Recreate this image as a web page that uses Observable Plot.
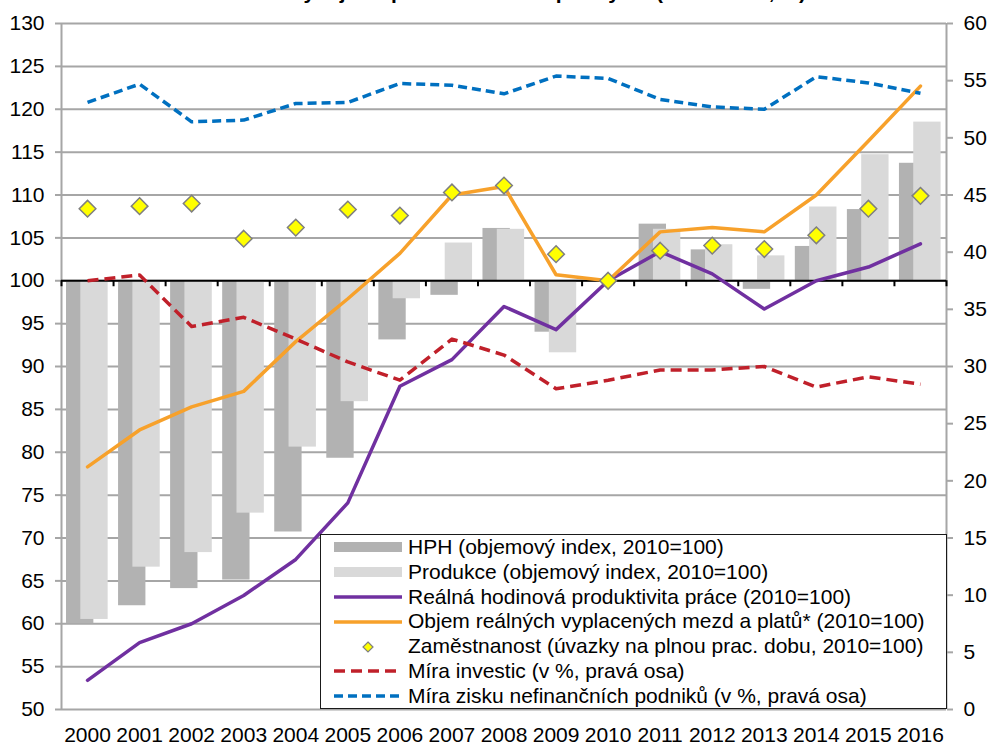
<!DOCTYPE html>
<html>
<head>
<meta charset="utf-8">
<script src="https://cdn.jsdelivr.net/npm/d3@7"></script>
<script src="https://cdn.jsdelivr.net/npm/@observablehq/plot@0.6"></script>
<style>
  html, body { margin: 0; padding: 0; background: #fff; }
  #wrap { position: relative; width: 991px; height: 745px; overflow: hidden; font-family: "Liberation Sans", Arial, sans-serif; }
  #title { position: absolute; right: 185px; top: -20px; font-weight: bold; font-size: 21px; white-space: nowrap; color: #000; }
  #chart { position: absolute; left: 0; top: 0; }
  #legend { position: absolute; left: 320px; top: 534px; width: 627px; height: 175px; box-sizing: border-box;
            border: 1.3px solid #1a1a1a; background: #fff; padding-top: 0px; font-size: 21px; color: #000; }
  .row { height: 24.8px; line-height: 24.8px; display: flex; align-items: center; white-space: nowrap; }
  .row svg { margin-left: 13px; margin-right: 6px; flex: none; }
</style>
</head>
<body>
<div id="wrap">
  <div id="title"></div>
  <div id="chart"></div>
  <div id="legend"></div>
</div>
<script>
// ---- data ----
const titleText = "Graf 1 – Vývoj ve zpracovatelském průmyslu (2010 = 100, %)";
const years = [2000, 2001, 2002, 2003, 2004, 2005, 2006, 2007, 2008, 2009, 2010, 2011, 2012, 2013, 2014, 2015, 2016];
const hph          = [60.0, 62.1, 64.1, 65.1, 70.7, 79.3, 93.1, 98.3, 106.1, 94.0, 100, 106.6, 103.6, 99.0, 104.0, 108.3, 113.7];
const produkce     = [60.5, 66.6, 68.3, 72.9, 80.6, 85.9, 97.9, 104.4, 106.0, 91.6, 100, 106.0, 104.2, 102.9, 108.6, 114.7, 118.5];
const produktivita = [53.4, 57.8, 60.0, 63.3, 67.5, 74.1, 87.7, 90.8, 97.0, 94.3, 100, 103.4, 100.8, 96.7, 100.0, 101.6, 104.3];
const mzdy         = [78.3, 82.6, 85.3, 87.1, 92.9, 97.9, 103.2, 110.0, 111.0, 100.7, 100, 105.7, 106.2, 105.7, 110.0, 116.3, 122.7];
const zamestnanost = [108.4, 108.7, 109.0, 104.9, 106.2, 108.3, 107.6, 110.3, 111.1, 103.1, 100, 103.5, 104.1, 103.7, 105.3, 108.4, 109.9];
const miraInvestic = [37.5, 38.0, 33.5, 34.3, 32.4, 30.4, 28.8, 32.4, 31.0, 28.05, 28.8, 29.7, 29.7, 30.0, 28.2, 29.1, 28.45];
const miraZisku    = [53.1, 54.7, 51.4, 51.55, 53.0, 53.1, 54.75, 54.6, 53.85, 55.4, 55.2, 53.35, 52.7, 52.5, 55.35, 54.8, 53.9];
const leftTicks  = [50, 55, 60, 65, 70, 75, 80, 85, 90, 95, 100, 105, 110, 115, 120, 125, 130];
const rightTicks = [0, 5, 10, 15, 20, 25, 30, 35, 40, 45, 50, 55, 60];
const legendLabels = [
  "HPH (objemový index, 2010=100)",
  "Produkce (objemový index, 2010=100)",
  "Reálná hodinová produktivita práce (2010=100)",
  "Objem reálných vyplacených mezd a platů* (2010=100)",
  "Zaměstnanost (úvazky na plnou prac. dobu, 2010=100)",
  "Míra investic (v %, pravá osa)",
  "Míra zisku nefinančních podniků (v %, pravá osa)"
];

// ---- styles ----
const C = {
  hph: "#b2b2b2", prod: "#d9d9d9", prodv: "#7030a0", wages: "#f7a12b",
  emp: "#ffff00", empStroke: "#7f7f7f", inv: "#c0202a", zisk: "#0070c0", grid: "#a6a6a6"
};

// left domain [50,130] <-> right domain [0,60]
const toLeft = r => 50 + r * 80 / 60;
const toRight = l => (l - 50) * 60 / 80;

const rows = years.map((year, i) => ({
  year, hph: hph[i], prod: produkce[i], prodv: produktivita[i], wages: mzdy[i],
  emp: zamestnanost[i], inv: toLeft(miraInvestic[i]), zisk: toLeft(miraZisku[i])
}));
const boundaries = years.map(y => y - 0.5).concat([years[years.length - 1] + 0.5]);
const xDomain = [years[0] - 0.5, years[years.length - 1] + 0.5];

document.getElementById("title").textContent = titleText;

const chart = Plot.plot({
  width: 991, height: 745,
  marginTop: 23, marginBottom: 36, marginLeft: 61, marginRight: 45,
  style: { fontFamily: "'Liberation Sans', Arial, sans-serif", fontSize: "21px", color: "#000", background: "transparent" },
  x: { type: "linear", domain: xDomain },
  y: { domain: [leftTicks[0], leftTicks[leftTicks.length - 1]] },
  marks: [
    Plot.ruleY(leftTicks, { stroke: C.grid, strokeWidth: 2 }),
    Plot.ruleX(xDomain, { y1: leftTicks[0], y2: leftTicks[leftTicks.length - 1], stroke: C.grid, strokeWidth: 2 }),
    Plot.axisY(leftTicks, { anchor: "left", tickSize: 6, tickPadding: 11, stroke: C.grid, strokeWidth: 2, label: null, tickFormat: d => String(d) }),
    Plot.axisY(rightTicks.map(toLeft), { anchor: "right", tickSize: 6, tickPadding: 11, stroke: C.grid, strokeWidth: 2, label: null,
      tickFormat: d => String(Math.round(toRight(d))) }),
    Plot.axisX(years, { anchor: "bottom", tickSize: 0, tickPadding: 18, label: null, tickFormat: d => String(d) }),
    // bars from the 100 baseline
    Plot.rect(rows, { x1: d => d.year - 0.5, x2: d => d.year + 0.5, y1: () => 100, y2: "hph", fill: C.hph, insetLeft: 5, insetRight: 19.7 }),
    Plot.rect(rows, { x1: d => d.year - 0.5, x2: d => d.year + 0.5, y1: () => 100, y2: "prod", fill: C.prod, insetLeft: 19.3, insetRight: 5.4 }),
    // category axis on the 100 line
    Plot.ruleY([100], { stroke: "#000", strokeWidth: 2 }),
    Plot.ruleX(boundaries, { y1: () => 100, y2: () => 100, insetBottom: -6, stroke: "#000", strokeWidth: 2 }),
    // lines
    Plot.line(rows, { x: "year", y: "prodv", stroke: C.prodv, strokeWidth: 3.5 }),
    Plot.line(rows, { x: "year", y: "wages", stroke: C.wages, strokeWidth: 3.5 }),
    Plot.dot(rows, { x: "year", y: "emp", symbol: "diamond2", r: 7.5, fill: C.emp, stroke: C.empStroke, strokeWidth: 1.5 }),
    Plot.line(rows, { x: "year", y: "inv", stroke: C.inv, strokeWidth: 3.5, strokeDasharray: "11,6", strokeLinecap: "butt" }),
    Plot.line(rows, { x: "year", y: "zisk", stroke: C.zisk, strokeWidth: 3.5, strokeDasharray: "9,5", strokeLinecap: "butt" })
  ]
});
document.getElementById("chart").appendChild(chart);

// ---- legend ----
const swatches = [
  `<rect x="0" y="7" width="68" height="10" fill="${C.hph}"/>`,
  `<rect x="0" y="7" width="68" height="10" fill="${C.prod}"/>`,
  `<line x1="0" x2="68" y1="12" y2="12" stroke="${C.prodv}" stroke-width="3.5"/>`,
  `<line x1="0" x2="68" y1="12" y2="12" stroke="${C.wages}" stroke-width="3.5"/>`,
  `<path d="M34,7 L39,12 L34,17 L29,12 Z" fill="${C.emp}" stroke="${C.empStroke}" stroke-width="1.2"/>`,
  `<line x1="0" x2="68" y1="12" y2="12" stroke="${C.inv}" stroke-width="3.5" stroke-dasharray="11,6"/>`,
  `<line x1="0" x2="68" y1="12" y2="12" stroke="${C.zisk}" stroke-width="3.5" stroke-dasharray="9,5"/>`
];
const legend = document.getElementById("legend");
legendLabels.forEach((lab, i) => {
  const row = document.createElement("div");
  row.className = "row";
  row.innerHTML = `<svg width="68" height="24">${swatches[i]}</svg><span></span>`;
  row.querySelector("span").textContent = lab;
  legend.appendChild(row);
});
</script>
</body>
</html>
